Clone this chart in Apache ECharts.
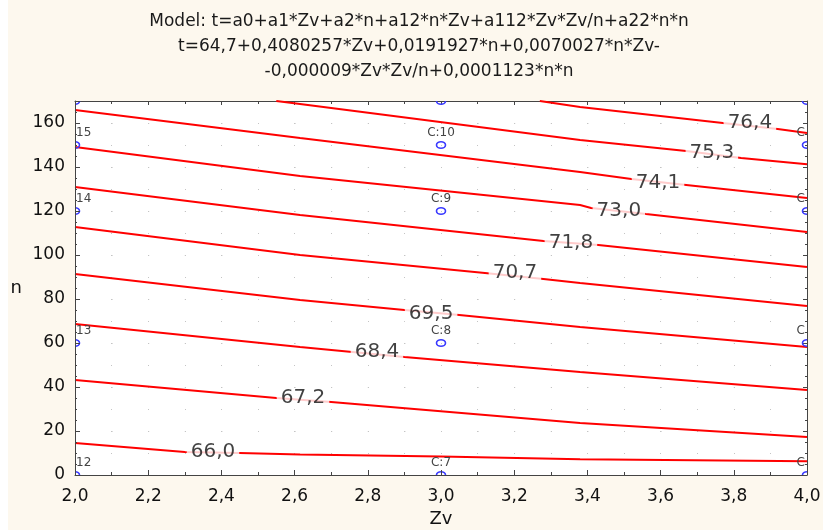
<!DOCTYPE html>
<html><head><meta charset="utf-8">
<script src="https://cdn.jsdelivr.net/npm/echarts@6/dist/echarts.min.js"></script>
<style>html,body{margin:0;padding:0;background:#fff}#c{width:823px;height:530px}</style>
</head><body><div id="c"></div>
<script>
// ---- text ----
const titleLines = [
  'Model: t=a0+a1*Zv+a2*n+a12*n*Zv+a112*Zv*Zv/n+a22*n*n',
  't=64,7+0,4080257*Zv+0,0191927*n+0,0070027*n*Zv-',
  '-0,000009*Zv*Zv/n+0,0001123*n*n'
];
const xName = 'Zv';
const yName = 'n';

// ---- contour levels and their traced lines [Zv, n] ----
const levelLabels = ['66,0','67,2','68,4','69,5','70,7','71,8','73,0','74,1','75,3','76,4'];
const c660 = [[2,14.5],[2.3,10.5],[2.45,10],[2.615,9.3],[3,8.4],[3.38,7.2],[4,6.2]];
const c672 = [[2,43.2],[2.55,35],[2.7,33.2],[3.38,23.6],[4,17.3]];
const c684 = [[2,68.6],[2.615,58.2],[2.9,53.6],[3.38,46.8],[4,38.6]];
const c695 = [[2,91.4],[2.615,79.5],[2.9,75],[3.05,72.7],[3.38,67.3],[4,58.2]];
const c707 = [[2,112.7],[2.615,100],[3.12,91.8],[3.28,89.1],[3.38,87.3],[4,76.8]];
const c718 = [[2,130.9],[2.615,118.2],[3.28,106.4],[3.43,104.5],[4,94.5]];
const c730 = [[2,149.1],[2.615,135.9],[3.38,122.7],[3.41,121.4],[3.56,118.6],[4,110.5]];
const c741 = [[2,165.9],[2.615,153.2],[3.38,137.7],[3.52,134.5],[3.67,131.8],[4,125.9]];
const c753 = [[2.55,170],[2.615,168.6],[3.38,152.3],[3.67,147.3],[3.82,144.1],[4,141.2]];
const c764 = [[3.27,170],[3.38,167.3],[3.77,160],[3.92,157.3],[4,155.5]];
const contourLines = [c660,c672,c684,c695,c707,c718,c730,c741,c753,c764];
// where each level's label sits on its line [Zv, n]
const labelAt = [[2.377,10.5],[2.623,35],[2.825,56],[2.973,73.2],[3.202,91.8],[3.355,105.5],[3.486,120],[3.593,132.7],[3.74,146.4],[3.844,160]];

// ---- design points ----
const designZv = [2,2,2,2,2, 3,3,3,3,3, 4,4,4,4,4];
const designN  = [0,60,120,150,170, 0,60,120,150,170, 0,60,120,150,170];
const designLabels = ['12','13','14','15','', 'C:7','C:8','C:9','C:10','', 'C','C','C','C',''];

// ---- axes ----
const xMin = 2, xMax = 4, xStep = 0.2;
const yMin = 0, yMax = 170, yStep = 20;

const FONT = 'DejaVu Sans';
const CREAM = '#fdf8ee';
const fmt1 = v => v.toFixed(1).replace('.', ',');

const chart = echarts.init(document.getElementById('c'), null, {renderer: 'canvas'});
const GRID = {left: 75, right: 16, top: 101, bottom: 55, show: true, backgroundColor: '#ffffff',
              borderWidth: 0, containLabel: false, outerBoundsMode: 'none'};

const series = [];
contourLines.forEach((pts, i) => {
  series.push({
    type: 'line', name: levelLabels[i], data: pts, symbol: 'none', silent: true,
    lineStyle: {color: '#ff0000', width: 2}, z: 2, animation: false
  });
});
series.push({
  type: 'scatter', name: 'levels', silent: true, animation: false, z: 4,
  symbolSize: 0,
  data: labelAt.map((p, i) => ({value: p, name: levelLabels[i]})),
  label: {
    show: true, position: 'inside', formatter: p => p.name,
    fontFamily: FONT, fontSize: 20, color: '#111',
    backgroundColor: '#ffffff', padding: [0, 4]
  }
});
series.push({
  type: 'custom', name: 'design', silent: true, animation: false, z: 3, clip: true,
  data: designZv.map((zv, i) => [zv, designN[i]]),
  renderItem: (params, api) => {
    const zv = api.value(0), n = api.value(1);
    const pt = api.coord([zv, n]);
    const lab = designLabels[params.dataIndex];
    const children = [{
      type: 'ellipse', shape: {cx: pt[0], cy: pt[1], rx: 4.5, ry: 3.3},
      style: {fill: 'rgba(255,255,255,0)', stroke: '#3a3aff', lineWidth: 1.6}
    }];
    if (lab) {
      const al = zv === xMin ? 'left' : (zv === xMax ? 'right' : 'center');
      const dx = zv === xMin ? 1 : (zv === xMax ? -2 : 0);
      children.push({
        type: 'text', x: pt[0] + dx, y: pt[1] - 6,
        style: {text: lab, align: al, verticalAlign: 'bottom',
                font: '12px "' + FONT + '"', fill: '#444'}
      });
    }
    return {type: 'group', children: children};
  }
});

const axisLineStyle = {color: '#444', width: 1};
const dotLine = (d) => ({show: true, lineStyle: {color: '#c4c4c4', width: 1, type: [1, d]}});

chart.setOption({
  backgroundColor: CREAM,
  animation: false,
  grid: GRID,
  xAxis: [
    {
      type: 'value', min: xMin, max: xMax, interval: xStep, position: 'bottom', z: 5,
      name: xName, nameLocation: 'middle', nameGap: 32,
      nameTextStyle: {fontFamily: FONT, fontSize: 18, color: '#111'},
      axisLine: {show: true, onZero: false, lineStyle: axisLineStyle},
      axisTick: {show: true, inside: true, length: 5, lineStyle: axisLineStyle},
      minorTick: {show: true, splitNumber: 2, length: 3, lineStyle: axisLineStyle},
      axisLabel: {formatter: fmt1, fontFamily: FONT, fontSize: 17, color: '#111', margin: 13},
      splitLine: {show: false}
    },
    {
      type: 'value', min: xMin, max: xMax, interval: xStep, position: 'top', z: 1,
      axisLine: {show: true, onZero: false, lineStyle: axisLineStyle},
      axisTick: {show: true, inside: true, length: 4, lineStyle: axisLineStyle},
      minorTick: {show: true, splitNumber: 2, length: 3, lineStyle: axisLineStyle},
      axisLabel: {show: false},
      splitLine: dotLine(21), minorSplitLine: dotLine(21)
    }
  ],
  yAxis: [
    {
      type: 'value', min: yMin, max: yMax, interval: yStep, position: 'left', z: 5,
      name: yName, nameLocation: 'middle', nameGap: 53, nameRotate: 0,
      nameTextStyle: {fontFamily: FONT, fontSize: 18, color: '#111'},
      axisLine: {show: true, onZero: false, lineStyle: axisLineStyle},
      axisTick: {show: true, inside: true, length: 5, lineStyle: axisLineStyle},
      minorTick: {show: true, splitNumber: 4, length: 2, lineStyle: axisLineStyle},
      axisLabel: {fontFamily: FONT, fontSize: 17, color: '#111', margin: 10, showMaxLabel: false},
      splitLine: {show: false}
    },
    {
      type: 'value', min: yMin, max: yMax, interval: yStep, position: 'right', z: 1,
      axisLine: {show: true, onZero: false, lineStyle: axisLineStyle},
      axisTick: {show: true, inside: true, length: 4, lineStyle: axisLineStyle},
      minorTick: {show: true, splitNumber: 4, length: 2, lineStyle: axisLineStyle},
      axisLabel: {show: false},
      splitLine: dotLine(35.6), minorSplitLine: {show: false}
    }
  ],
  graphic: [
    {type: 'rect', silent: true, z: 6, shape: {x: 0, y: 0, width: 8, height: 530}, style: {fill: '#ffffff'}},
    ...titleLines.map((t, i) => ({
      type: 'text', silent: true, z: 6, x: 419, y: 22 + i * 25,
      style: {text: t, textAlign: 'center', textVerticalAlign: 'middle',
              font: '17px "' + FONT + '"', fill: '#1a1a1a'}
    }))
  ],
  series: series
});
</script></body></html>
